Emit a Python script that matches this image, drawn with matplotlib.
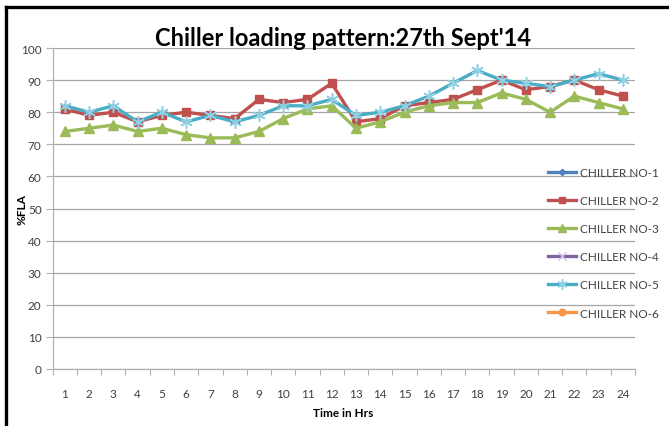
import matplotlib
matplotlib.use("Agg")
import matplotlib.pyplot as plt
from matplotlib.lines import Line2D
import numpy as np

hours = [str(h) for h in range(1, 25)]
chiller1 = [None] * 24
chiller2 = [81, 79, 80, 77, 79, 80, 79, 78, 84, 83, 84, 89, 77, 78, 82, 83, 84, 87, 90, 87, 88, 90, 87, 85]
chiller3 = [74, 75, 76, 74, 75, 73, 72, 72, 74, 78, 81, 82, 75, 77, 80, 82, 83, 83, 86, 84, 80, 85, 83, 81]
chiller4 = [None] * 24
chiller5 = [82, 80, 82, 77, 80, 77, 79, 77, 79, 82, 82, 84, 79, 80, 82, 85, 89, 93, 90, 89, 88, 90, 92, 90]
chiller6 = [None] * 24
series_names = ["CHILLER NO-1", "CHILLER NO-2", "CHILLER NO-3", "CHILLER NO-4", "CHILLER NO-5", "CHILLER NO-6"]

plt.rcParams['font.family'] = ['Lato', 'DejaVu Sans']

fig = plt.figure(figsize=(6.69, 4.27), dpi=100)
ax = fig.add_axes([52.7/669, 1-370/427, (635-52.7)/669, (370-49)/427])

x = np.arange(len(hours))
styles = [
    dict(color="#4F81BD", marker="D", ms=4, mfc="#4F81BD", mec="#4F81BD"),
    dict(color="#C0504D", marker="s", ms=5.5, mfc="#C0504D", mec="#C0504D"),
    dict(color="#9BBB59", marker="^", ms=7.5, mfc="#9BBB59", mec="#9BBB59"),
    dict(color="#8064A2", marker="x", ms=7, mfc="#8064A2", mec="#c8c0dc", mew=1),
    dict(color="#4BACC6", marker=(6, 2, 0), ms=9, mec="#8fd0e2", mew=1.1),
    dict(color="#F79646", marker="o", ms=6, mfc="#F79646", mec="#F79646"),
]
data = [chiller1, chiller2, chiller3, chiller4, chiller5, chiller6]
for name, vals, st in zip(series_names, data, styles):
    y = np.array([np.nan if v is None else v for v in vals], dtype=float)
    ax.plot(x, y, lw=2.4, label=name, zorder=3, **st)

ax.set_xlim(-0.5, 23.5)
ax.set_ylim(0, 100)
ax.set_yticks(range(0, 101, 10))
ax.set_xticks(x)
ax.set_xticklabels(hours)
ax.set_xticks(np.arange(-0.5, 24, 1), minor=True)
ax.tick_params(axis='x', which='major', length=0, pad=14, labelsize=8.5, colors="#404040")
ax.tick_params(axis='x', which='minor', length=4, width=0.8, color="#b0b0b0")
ax.tick_params(axis='y', length=5, width=0.8, color="#b0b0b0", labelsize=8.5, labelcolor="#404040", pad=3)
ax.grid(axis='y', color="#a6a6a6", lw=0.9, zorder=0)
ax.set_axisbelow(True)
for s in ["top", "right"]:
    ax.spines[s].set_visible(False)
for s in ["left", "bottom"]:
    ax.spines[s].set_color("#b0b0b0")
    ax.spines[s].set_linewidth(0.9)

fig.text(343/669, 1-38/427, "Chiller loading pattern:27th Sept'14", ha="center", va="center",
         fontsize=17, fontweight="bold", color="black")
fig.text(22/669, 1-210/427, "%FLA", rotation=90, ha="center", va="center",
         fontsize=8.5, fontweight="bold", color="black")
fig.text(343/669, 1-414/427, "Time in Hrs", ha="center", va="center",
         fontsize=8.5, fontweight="bold", color="black")

leg = fig.legend(loc="upper left", bbox_to_anchor=(548/669, 1-168/427), frameon=False,
                 fontsize=8.5, handlelength=2.4, handletextpad=0.3, labelspacing=1.45,
                 borderpad=0, borderaxespad=0, markerscale=0.8)
for t in leg.get_texts():
    t.set_color("#404040")

fig.add_artist(Line2D([6.5/669, 6.5/669], [0, 1-7.5/427], transform=fig.transFigure, color="black", lw=2.4))
fig.add_artist(Line2D([6.5/669, 1], [1-7.5/427, 1-7.5/427], transform=fig.transFigure, color="black", lw=2.4))

fig.savefig("out.png", dpi=100, facecolor="white")
